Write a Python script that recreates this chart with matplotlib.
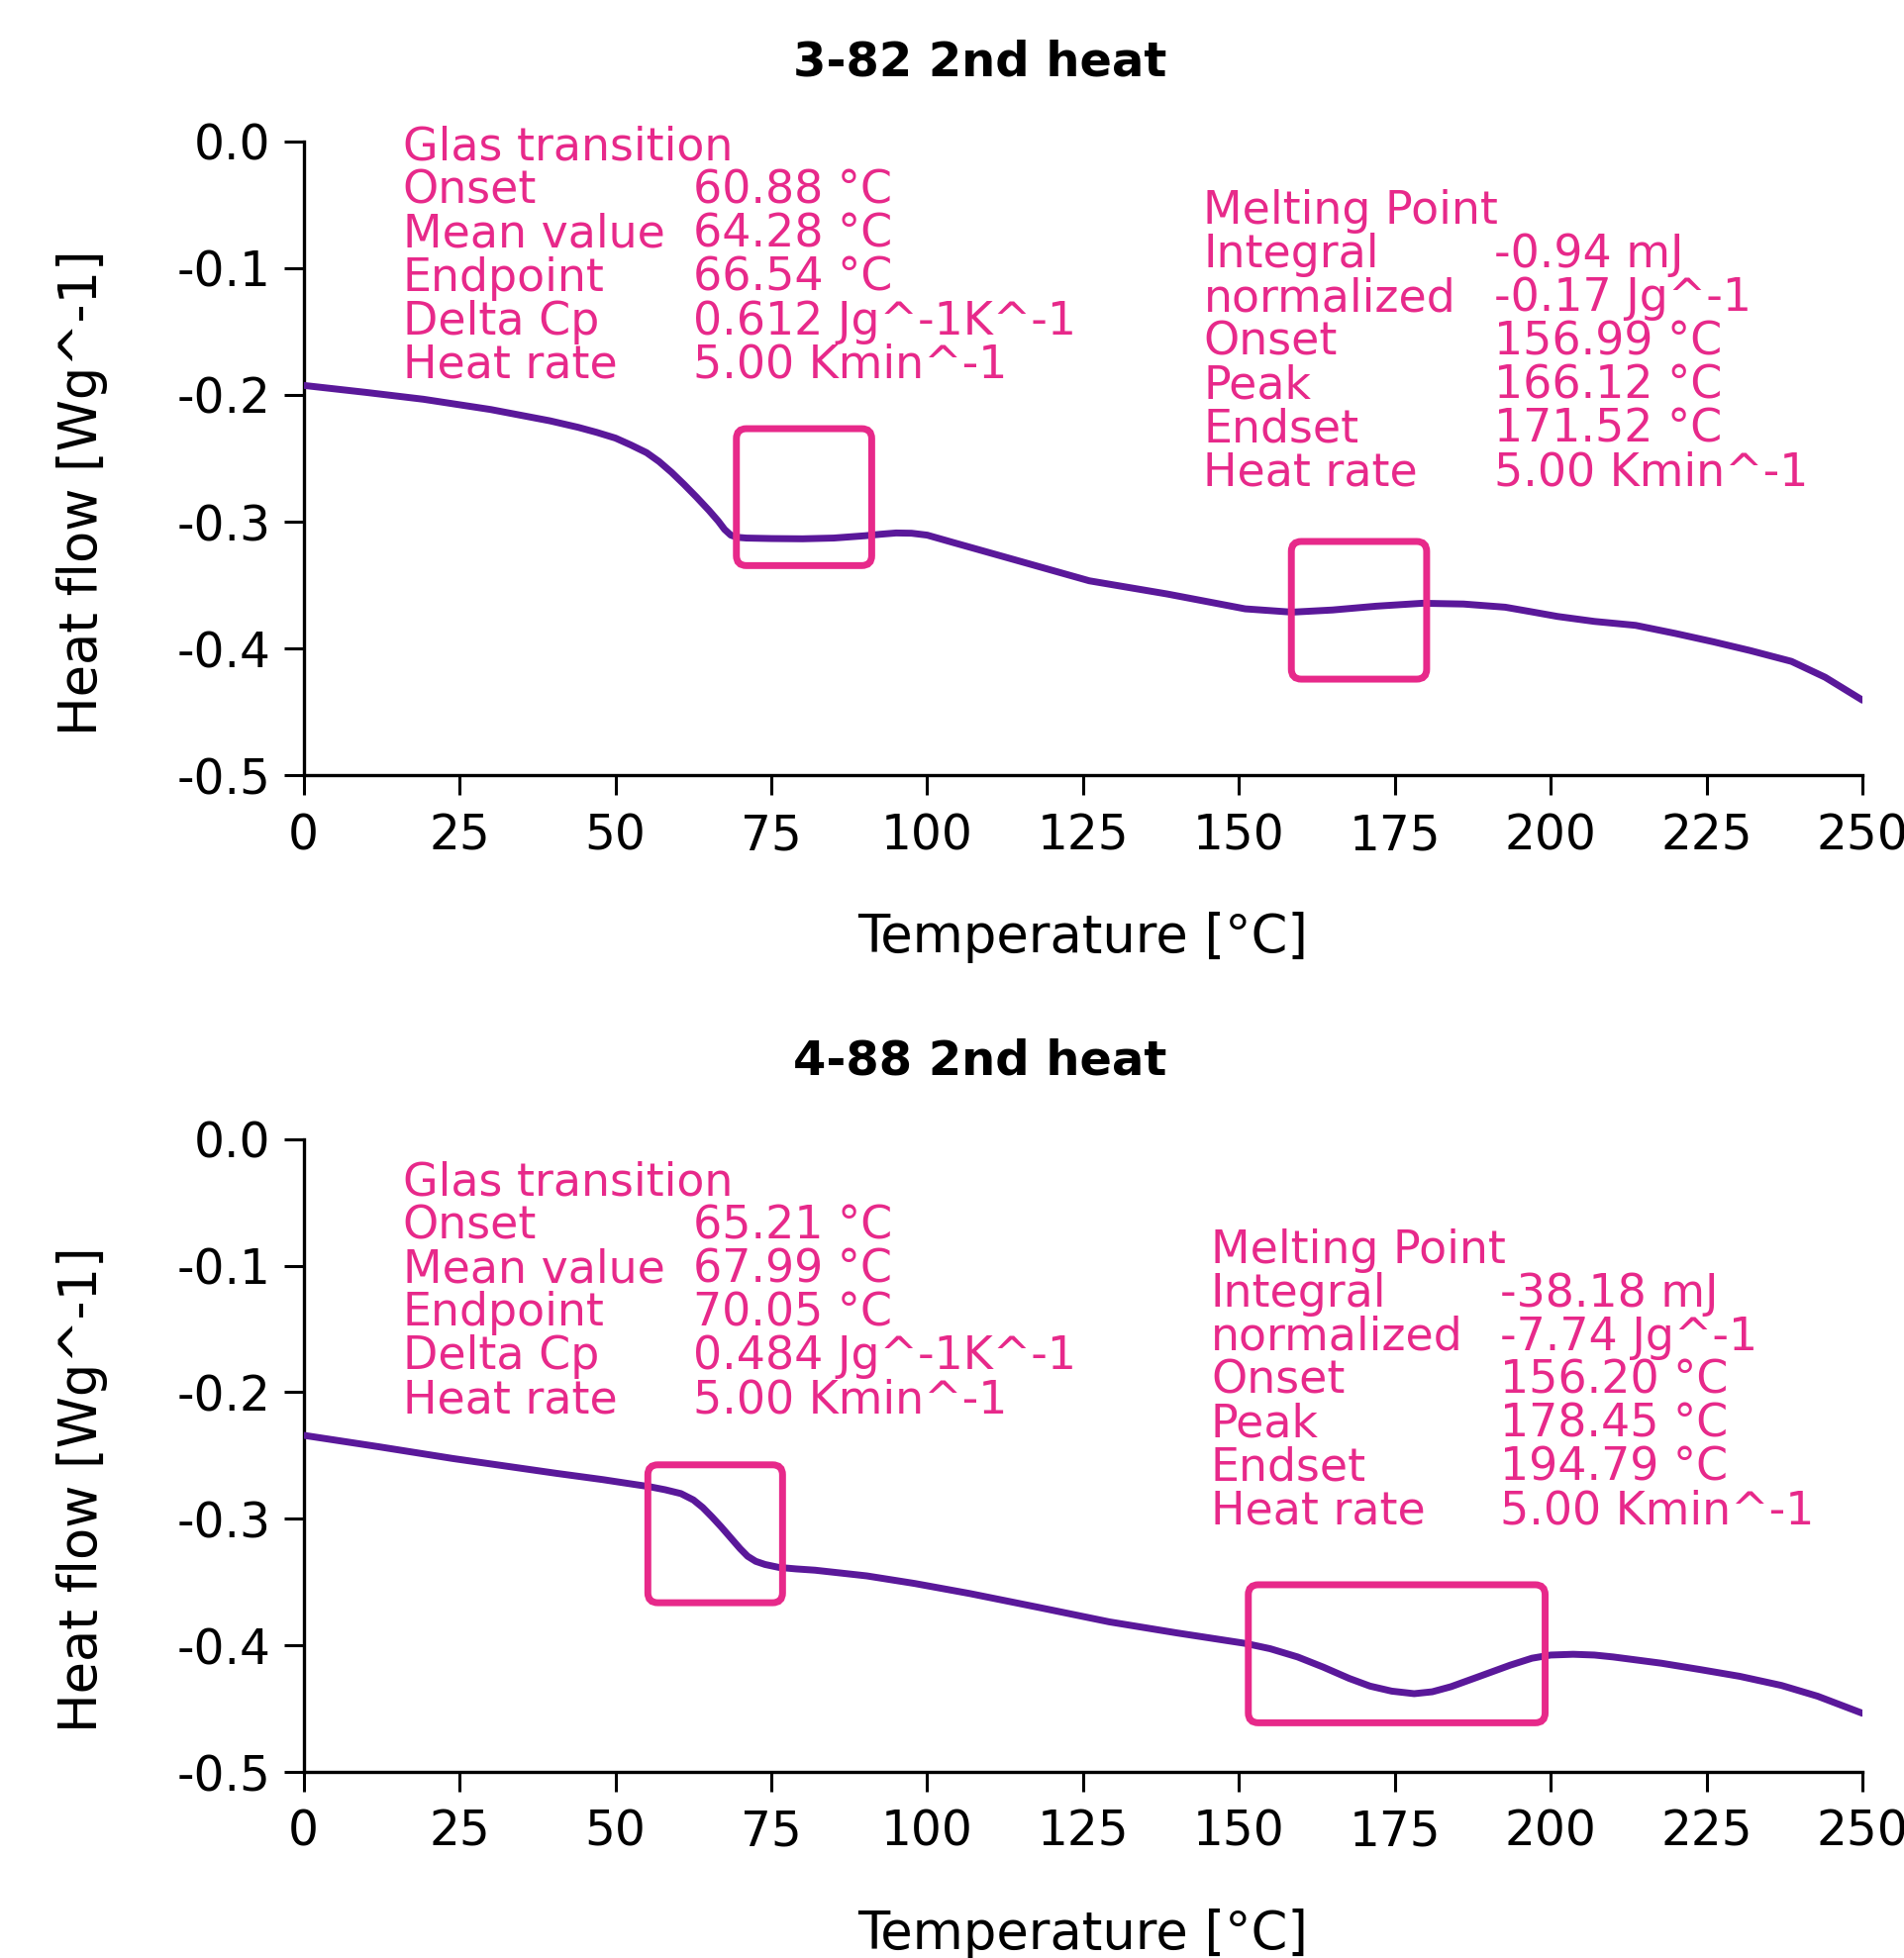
import numpy as np
import matplotlib
matplotlib.use("Agg")
import matplotlib.pyplot as plt
from matplotlib.patches import FancyBboxPatch

plt.rcParams['font.family'] = ['DejaVu Sans']
plt.rcParams['axes.unicode_minus'] = False

# ---------------- data ----------------
temp_top = [0, 10, 19.2, 30, 39.5, 44, 47, 50, 52.5, 55, 57, 59, 61, 63, 65, 66.5, 67.5,
            68.5, 69.5, 71, 75, 80, 85, 90, 92.5, 95, 97.5, 100, 104.3, 114.8, 126, 138.5,
            151, 158.5, 165, 172, 179.4, 186, 192.7, 197, 201.1, 207, 213.6, 220, 226.1,
            232, 238.6, 244, 250]
flow_top = [-0.1925, -0.198, -0.2034, -0.2115, -0.2204, -0.2255, -0.2295, -0.234, -0.2395,
            -0.2455, -0.2525, -0.261, -0.2705, -0.2805, -0.291, -0.2995, -0.306, -0.3105,
            -0.3122, -0.3128, -0.3132, -0.3134, -0.3128, -0.311, -0.3098, -0.3088, -0.309,
            -0.3105, -0.3165, -0.331, -0.3465, -0.3569, -0.3686, -0.3712, -0.3695, -0.3665,
            -0.3642, -0.3648, -0.3673, -0.371, -0.3746, -0.3785, -0.3816, -0.388, -0.3946,
            -0.4015, -0.410, -0.4225, -0.4406]

temp_bot = [0, 12, 23.9, 32, 40.5, 48, 52, 55.4, 58, 60.5, 62.5, 64, 65.5, 67, 68.5, 70,
            71.2, 72.5, 74, 76.2, 79, 82, 90.3, 98, 106.9, 118, 129.2, 140, 151, 155, 159.4,
            163.5, 167.7, 171, 174.5, 178.1, 181, 184, 188.6, 193.5, 197, 200, 203.6, 207,
            210, 217.8, 224, 230.3, 237, 242.8, 250]
flow_bot = [-0.234, -0.243, -0.2523, -0.258, -0.264, -0.269, -0.272, -0.2745, -0.277, -0.280,
            -0.285, -0.291, -0.2985, -0.3065, -0.315, -0.3235, -0.3295, -0.3335, -0.336,
            -0.3383, -0.3395, -0.3405, -0.345, -0.351, -0.359, -0.370, -0.3813, -0.390,
            -0.3983, -0.4025, -0.409, -0.417, -0.426, -0.432, -0.436, -0.438, -0.4365,
            -0.4325, -0.4243, -0.4155, -0.410, -0.4075, -0.4069, -0.4075, -0.409, -0.414,
            -0.419, -0.4243, -0.4315, -0.440, -0.4535]

titles = ["3-82 2nd heat", "4-88 2nd heat"]

glass_labels = ["Glas transition", "Onset", "Mean value", "Endpoint", "Delta Cp", "Heat rate"]
glass_top = ["", "60.88 °C", "64.28 °C", "66.54 °C", "0.612 Jg^-1K^-1", "5.00 Kmin^-1"]
glass_bot = ["", "65.21 °C", "67.99 °C", "70.05 °C", "0.484 Jg^-1K^-1", "5.00 Kmin^-1"]

melt_labels = ["Melting Point", "Integral", "normalized", "Onset", "Peak", "Endset", "Heat rate"]
melt_top = ["", "-0.94 mJ", "-0.17 Jg^-1", "156.99 °C", "166.12 °C", "171.52 °C", "5.00 Kmin^-1"]
melt_bot = ["", "-38.18 mJ", "-7.74 Jg^-1", "156.20 °C", "178.45 °C", "194.79 °C", "5.00 Kmin^-1"]

# boxes: (x0, x1, y0, y1)
boxes_top = [(69.4, 91.1, -0.3345, -0.2266), (158.4, 180.1, -0.424, -0.3155)]
boxes_bot = [(55.2, 76.8, -0.3662, -0.2573), (151.5, 199.1, -0.461, -0.352)]

LINE = '#5a189a'
PINK = '#e7298a'

fig = plt.figure(figsize=(9.62, 9.89), dpi=200)
ax1 = fig.add_axes([0.1594, 0.6039, 0.8183, 0.3240])
ax2 = fig.add_axes([0.1594, 0.0949, 0.8183, 0.3234])

panels = [
    (ax1, temp_top, flow_top, glass_top, melt_top, boxes_top,
     (15.9, 62.5, -0.0151), (144.3, 190.9, -0.0651), 1 - 63 / 1978),
    (ax2, temp_bot, flow_bot, glass_bot, melt_bot, boxes_bot,
     (15.9, 62.5, -0.0443), (145.5, 191.9, -0.098), 1 - 1072 / 1978),
]

dy = 44 / 200 * 72  # row spacing in points

for i, (ax, t, f, gv, mv, bx, gpos, mpos, ty) in enumerate(panels):
    ax.plot(t, f, color=LINE, lw=2.5, solid_capstyle='round', solid_joinstyle='round', zorder=3)
    ax.set_xlim(0, 250)
    ax.set_ylim(-0.5, 0.0)
    ax.set_xticks(np.arange(0, 251, 25))
    ax.set_yticks([0.0, -0.1, -0.2, -0.3, -0.4, -0.5])
    ax.set_yticklabels(['%.1f' % v for v in [0.0, -0.1, -0.2, -0.3, -0.4, -0.5]])
    for s in ['top', 'right']:
        ax.spines[s].set_visible(False)
    for s in ['left', 'bottom']:
        ax.spines[s].set_linewidth(1.2)
    ax.tick_params(axis='both', labelsize=17.5, length=7.2, width=1.1, direction='out')
    ax.tick_params(axis='x', pad=6)
    ax.tick_params(axis='y', pad=4.7)
    ax.set_xlabel('Temperature [°C]', fontsize=19, labelpad=19)
    ax.set_ylabel('Heat flow [Wg^-1]', fontsize=19, labelpad=25)
    ax.yaxis.label.set_y(0.446)

    for (x0, x1, y0, y1) in bx:
        p = FancyBboxPatch((x0, y0), x1 - x0, y1 - y0,
                           boxstyle='round,pad=0,rounding_size=1.6',
                           mutation_aspect=0.0049, fill=False,
                           edgecolor=PINK, lw=2.5, zorder=4)
        ax.add_patch(p)

    for (labels, vals, pos) in [(glass_labels, gv, gpos), (melt_labels, mv, mpos)]:
        xl, xv, y0 = pos
        for k, (lab, val) in enumerate(zip(labels, vals)):
            ax.annotate(lab, xy=(xl, y0), xytext=(0, -k * dy), textcoords='offset points',
                        color=PINK, fontsize=16.5, va='baseline', ha='left')
            if val:
                ax.annotate(val, xy=(xv, y0), xytext=(0, -k * dy), textcoords='offset points',
                            color=PINK, fontsize=16.5, va='baseline', ha='left')

    fig.text(990 / 1924, ty, titles[i], ha='center', va='center',
             fontsize=17.3, fontweight='bold')

fig.savefig('out.png', dpi=200)
